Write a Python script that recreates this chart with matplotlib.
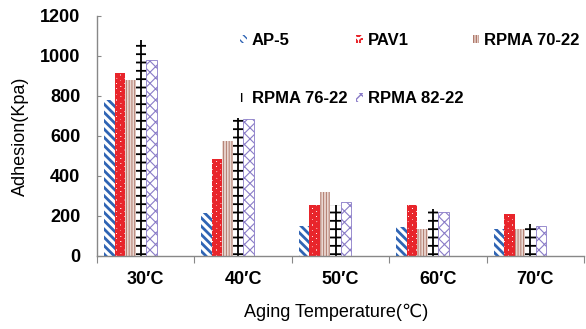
import matplotlib
matplotlib.use("Agg")
import matplotlib.pyplot as plt
from matplotlib.patches import Patch
import numpy as np

plt.rcParams["font.family"] = ["Liberation Sans", "DejaVu Sans"]

# adhesion (Kpa)
categories = ["30\u2032C", "40\u2032C", "50\u2032C", "60\u2032C", "70\u2032C"]
series = ["AP-5", "PAV1", "RPMA 70-22", "RPMA 76-22", "RPMA 82-22"]
ap5 = [780, 215, 150, 147, 133]
pav1 = [915, 483, 255, 255, 210]
rpma70 = [880, 573, 322, 137, 136]
rpma76 = [1080, 690, 255, 235, 162]
rpma82 = [978, 686, 272, 218, 150]
values = [ap5, pav1, rpma70, rpma76, rpma82]

BS = chr(92)
# (facecolor, hatch colour, hatch, hatch linewidth)
styles = [
    ("white", "#2f64b4", BS * 4, 2.0),
    ("white", "#e8252b", "OO", 2.6),
    ("#ead8d2", "#b07a6c", "||||||", 0.7),
    ("none", "black", "--", 1.3),
    ("white", "#8a7cc8", "xxx", 0.8),
]

fig = plt.figure(figsize=(5.86, 3.29), dpi=100)
ax = fig.add_axes([97 / 586, 1 - 256 / 329, 487 / 586, 240 / 329])

x = np.arange(len(categories))
w = 0.108
start = 0.072

handles = []
for i, (name, vals) in enumerate(zip(series, values)):
    fc, hc, hatch, hlw = styles[i]
    xs = x + start + w * (i + 0.5)
    bars = ax.bar(xs, vals, width=w, facecolor=fc, edgecolor=hc,
                  hatch=hatch, linewidth=0)
    for b in bars:
        if hasattr(b, "set_hatch_linewidth"):
            b.set_hatch_linewidth(hlw)
    if name == "RPMA 76-22":
        ax.vlines(xs, 0, vals, color="black", linewidth=1.3)
        hatch = "+"
    p = Patch(facecolor=fc, edgecolor=hc, hatch=hatch, linewidth=0)
    handles.append(p)
    if name == "RPMA 82-22":
        # thin outline as in the reference
        for b in bars:
            b.set_linewidth(0.6)
            b.set_edgecolor("#8a7cc8")

ax.set_xlim(0, 5)
ax.set_ylim(0, 1200)
ax.set_yticks(np.arange(0, 1201, 200))
ax.tick_params(axis="y", direction="in", length=3, color="#888888", pad=12,
               labelsize=13)
for t in ax.get_yticklabels():
    t.set_fontweight("bold")

ax.set_xticks(np.arange(0, 6))
ax.set_xticklabels([])
ax.tick_params(axis="x", which="major", direction="out", length=5,
               color="#888888")
ax.set_xticks(x + 0.5, minor=True)
ax.set_xticklabels(categories, minor=True, fontsize=13, fontweight="bold")
ax.tick_params(axis="x", which="minor", length=0, pad=11)

for s in ["top", "right"]:
    ax.spines[s].set_visible(False)
for s in ["left", "bottom"]:
    ax.spines[s].set_color("#888888")
    ax.spines[s].set_linewidth(1)

ax.set_ylabel("Adhesion(Kpa)", fontsize=13)
ax.yaxis.set_label_coords(-68 / 487, 0.5)
ax.set_xlabel("Aging Temperature(\u2103)", fontsize=13)
ax.xaxis.set_label_coords(0.49, -48 / 240)

order = [0, 3, 1, 4, 2]
leg = fig.legend([handles[k] for k in order], [series[k] for k in order],
                 ncol=3, loc="upper left",
                 bbox_to_anchor=(240 / 586, 1 - 33 / 329),
                 bbox_transform=fig.transFigure, frameon=False,
                 prop={"weight": "bold", "size": 12},
                 handlelength=0.4, handleheight=0.4, handletextpad=0.3,
                 columnspacing=0.55, labelspacing=2.6, borderpad=0,
                 borderaxespad=0)

fig.savefig("out.png", dpi=100)
